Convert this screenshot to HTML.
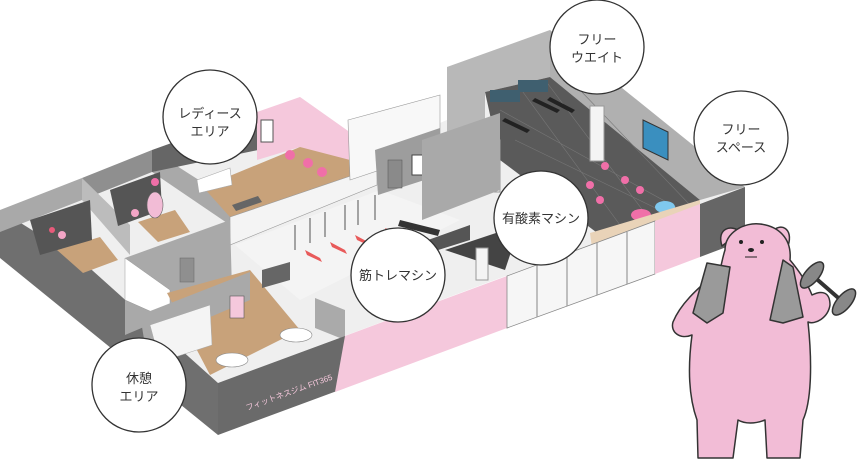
<!DOCTYPE html>
<html><head><meta charset="utf-8"><style>
html,body{margin:0;padding:0;background:#fff;}
svg{display:block}
text{font-family:"Liberation Sans","Noto Sans CJK JP",sans-serif;font-size:13px;fill:#333;text-anchor:middle}
</style></head><body>
<svg width="860" height="461" viewBox="0 0 860 461" xmlns="http://www.w3.org/2000/svg">
<!-- base floor -->
<polygon points="0,210 300,97 375,150 447,120 447,67 550,30 745,187 218,383" fill="#efefef"/>
<!-- left exterior face -->
<polygon points="0,210 83,262 218,383 218,435 0,258" fill="#6f6f6f"/>
<!-- left rooms walls -->
<polygon points="0,210 82,178 82,200 0,232" fill="#a9a9a9"/>
<polygon points="82,178 152,150 152,172 82,200" fill="#8f8f8f"/>
<polygon points="152,150 230,200 230,225 152,172" fill="#a9a9a9"/>
<polygon points="82,178 130,225 130,255 82,200" fill="#bcbcbc"/>
<polygon points="152,150 258,112 258,150 152,172" fill="#666"/>
<!-- left room floors -->
<polygon points="57,250 100,237 118,260 83,273" fill="#c8a27a"/>
<polygon points="138,222 175,210 190,232 158,242" fill="#c8a27a"/>
<!-- cubbies -->
<polygon points="30,220 90,200 92,240 40,255" fill="#555"/>
<polygon points="110,190 160,172 162,210 118,226" fill="#555"/>
<circle cx="62" cy="235" r="4" fill="#f3a5c6"/><circle cx="52" cy="230" r="3" fill="#e85a7a"/>
<circle cx="135" cy="213" r="4" fill="#f3a5c6"/><circle cx="155" cy="182" r="4" fill="#f06fa8"/>
<ellipse cx="155" cy="205" rx="8" ry="13" fill="#f2bcd6" stroke="#666" stroke-width=".6"/>
<!-- ladies area -->
<polygon points="257,112 300,97 375,150 375,178 300,147 257,160" fill="#f5c8dc"/>
<polygon points="203,187 300,147 377,167 230,217" fill="#c8a27a"/>
<polygon points="230,217 377,167 377,185 230,245" fill="#f4f4f4" stroke="#999" stroke-width=".6"/>
<rect x="261" y="120" width="12" height="22" fill="#fff" stroke="#555"/>
<circle cx="290" cy="155" r="5" fill="#f06fa8"/><circle cx="308" cy="163" r="5" fill="#f06fa8"/><circle cx="322" cy="172" r="5" fill="#f06fa8"/>
<polygon points="197,180 230,168 232,185 199,193" fill="#fff" stroke="#aaa" stroke-width=".6"/>
<polygon points="232,205 258,196 262,202 236,211" fill="#666"/>
<!-- walls near lounge/machine -->
<polygon points="125,258 230,220 232,290 125,335" fill="#a9a9a9"/>
<polygon points="125,258 170,290 170,320 125,300" fill="#fff" stroke="#999" stroke-width=".5"/>
<rect x="180" y="258" width="14" height="24" fill="#8f8f8f" stroke="#666" stroke-width=".5"/>
<!-- lounge -->
<polygon points="167,293 250,270 300,330 210,375" fill="#c8a27a"/>
<polygon points="140,315 250,272 250,300 145,345" fill="#a9a9a9"/>
<polygon points="150,325 210,305 212,345 160,362" fill="#f4f4f4" stroke="#aaa" stroke-width=".5"/>
<rect x="230" y="296" width="14" height="22" fill="#f5c8dc" stroke="#555" stroke-width=".6"/>
<ellipse cx="232" cy="360" rx="16" ry="7" fill="#fff" stroke="#888" stroke-width=".6"/>
<ellipse cx="296" cy="335" rx="16" ry="7" fill="#fff" stroke="#888" stroke-width=".6"/>
<polygon points="315,298 345,310 345,340 315,328" fill="#aaa"/>
<!-- machine area -->
<polygon points="235,245 380,190 460,220 300,300" fill="#f4f4f4"/>
<polygon points="348,120 440,95 440,150 350,180" fill="#f8f8f8" stroke="#999" stroke-width=".6"/>
<polygon points="375,150 440,128 440,175 378,195" fill="#9d9d9d"/>
<rect x="388" y="160" width="14" height="28" fill="#8a8a8a" stroke="#555" stroke-width=".5"/>
<rect x="412" y="155" width="12" height="20" fill="#fff" stroke="#444"/>
<g stroke="#888" fill="none" stroke-width="1.5">
<path d="M295,225 v25 M310,218 v25 M325,212 v25 M345,205 v25 M358,200 v25 M375,195 v25"/>
</g>
<g fill="#e85a5a"><polygon points="305,250 320,258 322,262 307,255"/><polygon points="330,242 345,250 347,254 332,247"/><polygon points="355,235 370,243 372,247 357,240"/><polygon points="385,228 395,232 397,236 387,232"/></g>
<polygon points="400,220 440,230 438,236 398,226" fill="#333"/>
<polygon points="262,270 290,262 290,280 262,288" fill="#666"/>
<polygon points="400,250 470,225 470,240 400,262" fill="#555"/>
<polygon points="445,250 520,225 505,270" fill="#444"/>
<!-- free weight area -->
<polygon points="447,67 550,30 550,77 485,92 485,125 447,140" fill="#b8b8b8"/>
<polygon points="550,30 745,187 700,200 550,77" fill="#b0b0b0"/>
<polygon points="485,92 550,77 700,200 600,235 500,160" fill="#5a5a5a"/>
<g stroke="#777" stroke-width=".6"><path d="M500,110 L690,215 M515,140 L670,215 M520,88 L620,225 M545,80 L650,220 M580,90 L690,205"/></g>
<polygon points="643,120 668,132 668,160 643,148" fill="#3a8fbf" stroke="#333"/>
<rect x="490" y="90" width="30" height="12" fill="#3f5f6f"/>
<rect x="518" y="80" width="30" height="12" fill="#3f5f6f"/>
<g fill="#222"><polygon points="535,98 560,110 557,113 532,101"/><polygon points="550,97 575,110 572,113 547,100"/><polygon points="505,118 530,130 527,133 502,121"/></g>
<rect x="590" y="106" width="14" height="55" fill="#f4f4f4" stroke="#999"/>
<rect x="487" y="140" width="13" height="52" fill="#f4f4f4" stroke="#999"/>
<rect x="476" y="248" width="12" height="32" fill="#f4f4f4" stroke="#999"/>
<polygon points="422,140 500,113 500,190 422,220" fill="#a9a9a9"/>
<g fill="#f06fa8"><circle cx="605" cy="166" r="4"/><circle cx="625" cy="180" r="4"/><circle cx="640" cy="190" r="4"/><circle cx="590" cy="185" r="4"/><circle cx="600" cy="200" r="4"/></g>
<ellipse cx="641" cy="215" rx="10" ry="6" fill="#f06fa8"/>
<ellipse cx="665" cy="207" rx="10" ry="6" fill="#7fc8ee"/>
<ellipse cx="612" cy="235" rx="10" ry="6" fill="#7fc8ee"/>
<polygon points="590,233 700,200 700,215 592,248" fill="#e9d3b8"/>
<!-- front wall -->
<polygon points="218,383 345,336 345,388 218,435" fill="#6a6a6a"/>
<polygon points="345,336 507,276 507,328 335,392" fill="#f5c8dc"/>
<polygon points="507,276 655,221 655,274 507,328" fill="#f6f6f6" stroke="#888" stroke-width=".8"/>
<g stroke="#999" stroke-width="1.2"><path d="M537,265 v52 M567,254 v52 M597,243 v52 M627,232 v52"/></g>
<polygon points="655,221 700,204 700,257 655,274" fill="#f5c8dc"/>
<polygon points="700,204 745,187 745,240 700,257" fill="#666"/>
<text x="290" y="395" transform="rotate(-20 290 395)" style="font-size:8px;fill:#f5c8dc">フィットネスジム FIT365</text>
<!-- circles -->
<g fill="#fff" stroke="#333" stroke-width="1.3">
<circle cx="210" cy="117" r="47"/>
<circle cx="597" cy="47" r="47"/>
<circle cx="741" cy="138" r="47"/>
<circle cx="541" cy="218" r="47"/>
<circle cx="398" cy="275" r="47"/>
<circle cx="139" cy="385" r="47"/>
</g>
<text x="210" y="118">レディース</text><text x="210" y="136">エリア</text>
<text x="597" y="44">フリー</text><text x="597" y="62">ウエイト</text>
<text x="741" y="134">フリー</text><text x="741" y="152">スペース</text>
<text x="541" y="223">有酸素マシン</text>
<text x="398" y="280">筋トレマシン</text>
<text x="139" y="383">休憩</text><text x="139" y="401">エリア</text>
<!-- bear -->
<g stroke="#333" stroke-width="1.5" stroke-linejoin="round">
<path d="M722,246 C716,228 732,224 740,232 Z" fill="#f2bcd6"/>
<path d="M772,232 C780,222 794,228 788,246 Z" fill="#f2bcd6"/>
<path d="M725,250 C725,232 745,222 760,224 C778,226 792,238 790,260 C800,272 808,285 812,295 C822,290 830,292 830,305 C828,318 815,325 808,322 C812,360 812,400 803,420 L800,458 L767,458 L765,420 C755,424 745,424 738,420 L733,458 L698,458 L697,420 C688,395 688,365 692,335 C680,340 670,332 673,322 C680,305 695,290 720,270 C722,262 723,256 725,250 Z" fill="#f2bcd6"/>
<path d="M707,263 L693,313 L707,323 L723,313 L730,267 Z" fill="#9a9a9a"/>
<path d="M783,260 L770,320 L783,323 L803,317 L793,267 Z" fill="#9a9a9a"/>
<path d="M812,275 L843,302" stroke-width="4"/>
<ellipse cx="812" cy="275" rx="7" ry="16" fill="#888" transform="rotate(40 812 275)"/>
<ellipse cx="844" cy="302" rx="7" ry="16" fill="#888" transform="rotate(40 844 302)"/>
</g>
<circle cx="741" cy="242" r="2" fill="#222"/><circle cx="762" cy="242" r="2" fill="#222"/>
<ellipse cx="751" cy="250" rx="3" ry="2" fill="#222"/>
<path d="M745,257 h12" stroke="#222" stroke-width="1"/>
</svg>
</body></html>
